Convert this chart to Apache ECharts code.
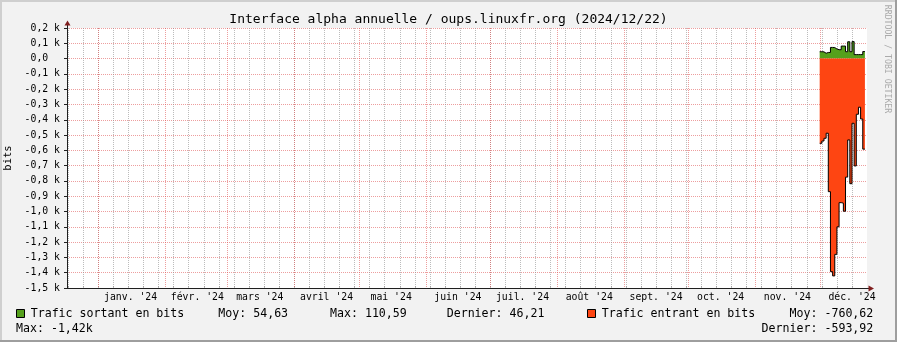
<!DOCTYPE html>
<html><head><meta charset="utf-8">
<script src="https://cdn.jsdelivr.net/npm/echarts@6/dist/echarts.min.js"></script>
<style>html,body{margin:0;padding:0;background:#f2f2f2}#c{width:897px;height:342px}</style>
</head><body><div id="c"></div>
<script>
// ---- data ----
const titleText = 'Interface alpha annuelle / oups.linuxfr.org (2024/12/22)';
const yAxisName = 'bits';
const watermark = 'RRDTOOL / TOBI OETIKER';
const monthLabels = ["janv. '24","févr. '24","mars '24","avril '24","mai '24","juin '24","juil. '24","août '24","sept. '24","oct. '24","nov. '24","déc. '24"];
const dataStartDate = [2024, 11, 1]; // 1 déc. 2024, one value per day
const outValues = [45, 44, 35, 40, 40, 73, 72, 63, 58, 58, 82, 82, 45, 110, 45, 111, 26, 26, 26, 26, 46];
const inValues = [-554, -539, -521, -488, -870, -1393, -1421, -1280, -1100, -942, -945, -998, -775, -532, -818, -423, -702, -364, -318, -395, -592];
const legendOut = ['Trafic sortant en bits', 'Moy: 54,63', 'Max: 110,59', 'Dernier: 46,21'];
const legendIn = ['Trafic entrant en bits', 'Moy: -760,62', 'Max: -1,42k', 'Dernier: -593,92'];
const yMin = -1500, yMax = 200, yStep = 100;

// ---- helpers ----
const DAY = 86400000;
const ORIGIN = Date.UTC(2024, 0, 1);
const dayOf = (y, m, d) => (Date.UTC(y, m, d) - ORIGIN) / DAY;
const xMin = -14.53, xMax = 356.97;
const monthStarts = monthLabels.map((_, i) => dayOf(2024, i, 1));
const midMonths = monthStarts.map(v => v + 15);
const mondays = [];
for (let d = dayOf(2023, 11, 18); d <= xMax; d += 7) mondays.push(d);
const start = dayOf(...dataStartDate);
const toSteps = arr => arr.map((v, i) => [start + i, v]).concat([[start + arr.length, arr[arr.length - 1]]]);

const GREEN = '#55a01c', RED = '#fe4512';
const GRID = 'rgba(143,143,143,0.6)', MGRID = 'rgba(222,79,79,0.55)';
const MONO = '"DejaVu Sans Mono", monospace';

const chart = echarts.init(document.getElementById('c'), null, {renderer: 'canvas'});
const baseX = {type: 'value', min: xMin, max: xMax, position: 'bottom'};
const txt = (text, x, y, align) => ({type: 'text', x, y, z: 10, style: {text, font: '11.6px ' + MONO, fill: '#000', textAlign: align || 'left', textVerticalAlign: 'middle'}});
chart.setOption({
  animation: false,
  backgroundColor: '#f2f2f2',
  title: {text: titleText, left: 'center', top: 13, padding: 0, textStyle: {fontFamily: MONO, fontSize: 13, fontWeight: 'normal', color: '#000'}},
  grid: {left: 67, top: 28, right: 30, bottom: 54, show: true, backgroundColor: '#fff', borderWidth: 0, containLabel: false, outerBoundsMode: 'none'},
  xAxis: [
    Object.assign({}, baseX, {
      axisLine: {show: true, onZero: false, lineStyle: {color: '#1f1f1f'}},
      axisTick: {show: true, interval: 0, inside: true, length: 2, customValues: mondays, lineStyle: {color: GRID}},
      axisLabel: {show: false, interval: 0},
      splitLine: {show: true, interval: 0, lineStyle: {color: GRID, type: [1, 1], width: 1}}
    }),
    Object.assign({}, baseX, {
      axisLine: {show: false, onZero: false},
      axisTick: {show: false},
      splitLine: {show: false},
      axisLabel: {show: true, interval: 0, hideOverlap: false, customValues: midMonths, margin: 4, color: '#000', fontFamily: MONO, fontSize: 9.8,
        formatter: v => monthLabels[midMonths.indexOf(v)] || ''}
    })
  ],
  yAxis: {
    type: 'value', min: yMin, max: yMax, interval: yStep,
    name: yAxisName, nameLocation: 'middle', nameRotate: 90, nameGap: 50,
    nameTextStyle: {fontFamily: MONO, fontSize: 10.5, color: '#000'},
    axisLine: {show: true, onZero: false, lineStyle: {color: '#1f1f1f'}},
    axisTick: {show: true, length: 3, lineStyle: {color: '#1f1f1f'}},
    axisLabel: {margin: 7, color: '#000', fontFamily: MONO, fontSize: 9.8,
      formatter: v => v === 0 ? '0,0  ' : (v / 1000).toFixed(1).replace('.', ',') + ' k'},
    splitLine: {show: true, lineStyle: {color: MGRID, type: [1, 1], width: 1}}
  },
  series: [
    {type: 'custom', xAxisIndex: 0, z: 1, silent: true, data: monthStarts.map(v => [v, 0]),
      renderItem: (params, api) => {
        const cs = params.coordSys;
        const x = Math.round(api.coord([api.value(0), 0])[0]) + 0.5;
        return {type: 'line', shape: {x1: x, y1: cs.y, x2: x, y2: cs.y + cs.height},
          style: {stroke: MGRID, lineWidth: 1, lineDash: [1, 1]}};
      }},
    {name: legendOut[0], type: 'line', xAxisIndex: 0, step: 'end', data: toSteps(outValues), showSymbol: false, z: 2,
      lineStyle: {color: '#000', width: 1}, areaStyle: {color: GREEN, opacity: 1}},
    {name: legendIn[0], type: 'line', xAxisIndex: 0, step: 'end', data: toSteps(inValues), showSymbol: false, z: 2,
      lineStyle: {color: '#000', width: 1}, areaStyle: {color: RED, opacity: 1}}
  ],
  graphic: [
    {type: 'rect', shape: {x: 0, y: 0, width: 897, height: 2}, style: {fill: '#cfcfcf'}, z: 20},
    {type: 'rect', shape: {x: 0, y: 0, width: 2, height: 342}, style: {fill: '#cfcfcf'}, z: 20},
    {type: 'rect', shape: {x: 0, y: 340, width: 897, height: 2}, style: {fill: '#9e9e9e'}, z: 21},
    {type: 'rect', shape: {x: 895, y: 0, width: 2, height: 342}, style: {fill: '#9e9e9e'}, z: 21},
    {type: 'line', shape: {x1: 67.5, y1: 28, x2: 67.5, y2: 24}, style: {stroke: '#1f1f1f', lineWidth: 1}, z: 10},
    {type: 'polygon', shape: {points: [[64.5, 25.5], [70.5, 25.5], [67.5, 20.5]]}, style: {fill: '#801f1f'}, z: 10},
    {type: 'line', shape: {x1: 866, y1: 288.5, x2: 870, y2: 288.5}, style: {stroke: '#1f1f1f', lineWidth: 1}, z: 10},
    {type: 'polygon', shape: {points: [[868.5, 285.5], [868.5, 291.5], [874, 288.5]]}, style: {fill: '#801f1f'}, z: 10},
    {type: 'text', x: 887, y: 59, rotation: -Math.PI / 2, z: 10,
      style: {text: watermark, font: '8.2px ' + MONO, fill: '#aaaaaa', textAlign: 'center', textVerticalAlign: 'middle'}},
    {type: 'rect', shape: {x: 16.5, y: 309.5, width: 8, height: 8}, style: {fill: GREEN, stroke: '#000', lineWidth: 1}, z: 10},
    txt(legendOut[0], 30.7, 314), txt(legendOut[1], 218.3, 314), txt(legendOut[2], 330, 314), txt(legendOut[3], 446.7, 314),
    {type: 'rect', shape: {x: 587.5, y: 309.5, width: 8, height: 8}, style: {fill: RED, stroke: '#000', lineWidth: 1}, z: 10},
    txt(legendIn[0], 601.7, 314), txt(legendIn[1], 873.3, 314, 'right'),
    txt(legendIn[2], 16, 328.5), txt(legendIn[3], 873.3, 328.5, 'right')
  ]
});
</script></body></html>
